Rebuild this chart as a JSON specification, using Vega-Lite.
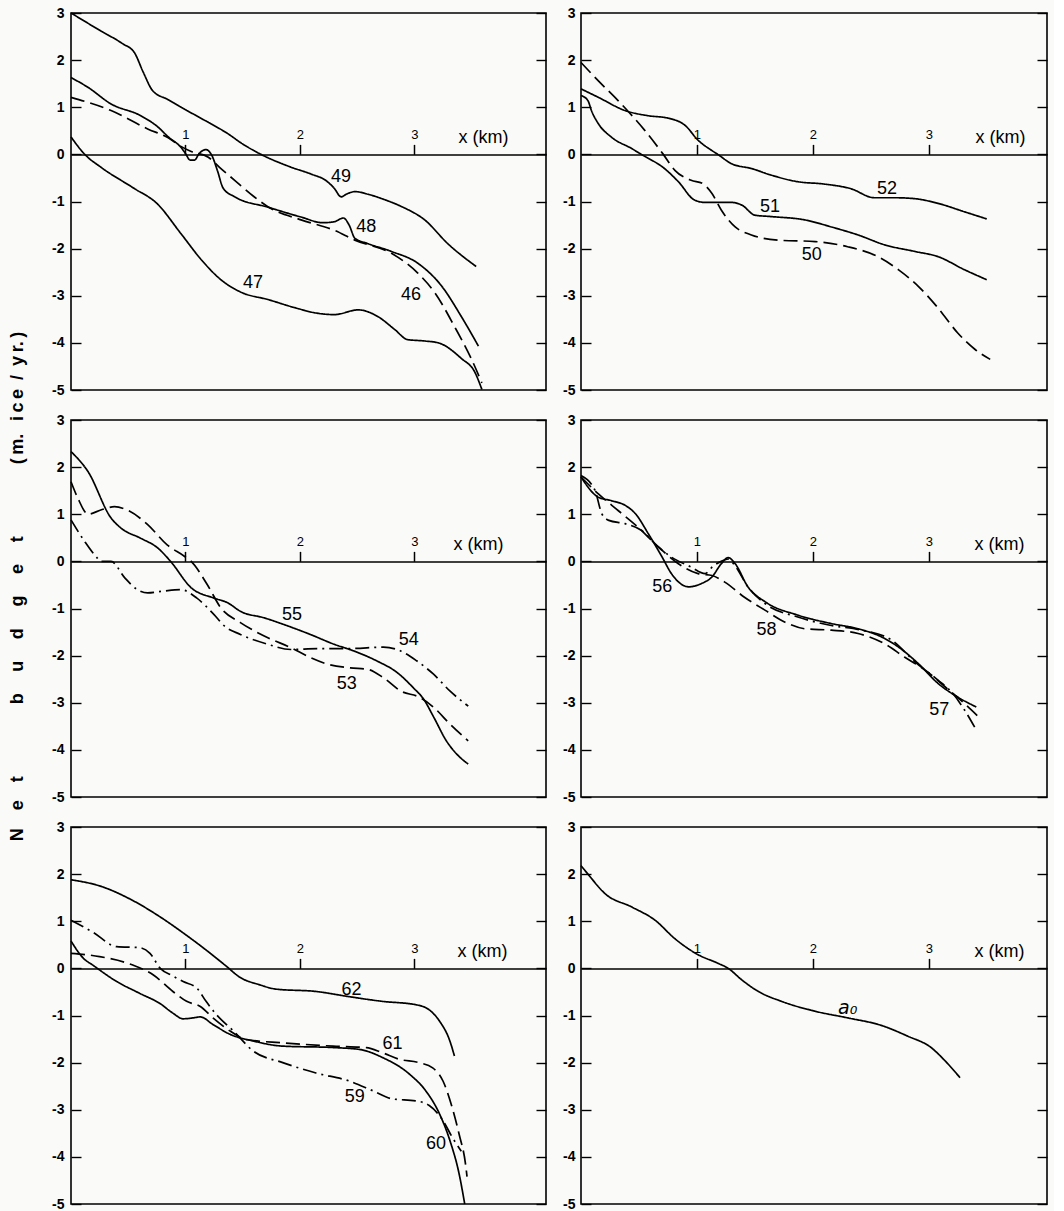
{
"$schema": "https://vega.github.io/schema/vega-lite/v6.json",
"background": "#fafbf8",
"padding": {"left": 8, "top": 5, "right": 5, "bottom": 0},
"config": {
  "view": {"stroke": "black", "strokeWidth": 1.6},
  "font": "Liberation Sans",
  "axis": {"domainColor": "black", "tickColor": "black", "labelColor": "black", "titleColor": "black", "grid": false, "labelFont": "Liberation Sans", "titleFont": "Liberation Sans"},
  "text": {"font": "Liberation Sans"}
},
"title": {"text": "N\u2003e\u2003t\u2003\u2003\u2003\u2003b\u2003\u2009u\u2003\u2009d\u2003\u2009g\u2003\u2009e\u2003\u2009t\u2003\u2003\u2003\u2003(\u2009m.\u2002\u2009i\u2009c\u2009e\u2002/\u2002y\u2009r.\u2009)", "orient": "left", "anchor": "middle", "font": "Liberation Sans", "fontSize": 18, "fontWeight": "bold", "color": "black", "offset": 24, "dx": 22},
"datasets": {
"curves": [
{"panel":1,"curve":"49","style":"solid","x":0,"y":3.0},{"panel":1,"curve":"49","style":"solid","x":0.26,"y":2.62},{"panel":1,"curve":"49","style":"solid","x":0.45,"y":2.35},{"panel":1,"curve":"49","style":"solid","x":0.554,"y":2.16},{"panel":1,"curve":"49","style":"solid","x":0.63,"y":1.75},{"panel":1,"curve":"49","style":"solid","x":0.714,"y":1.35},{"panel":1,"curve":"49","style":"solid","x":0.85,"y":1.16},{"panel":1,"curve":"49","style":"solid","x":0.962,"y":1.0},{"panel":1,"curve":"49","style":"solid","x":1.17,"y":0.72},{"panel":1,"curve":"49","style":"solid","x":1.37,"y":0.44},{"panel":1,"curve":"49","style":"solid","x":1.5,"y":0.22},{"panel":1,"curve":"49","style":"solid","x":1.66,"y":0.0},{"panel":1,"curve":"49","style":"solid","x":1.92,"y":-0.27},{"panel":1,"curve":"49","style":"solid","x":2.1,"y":-0.42},{"panel":1,"curve":"49","style":"solid","x":2.23,"y":-0.56},{"panel":1,"curve":"49","style":"solid","x":2.3,"y":-0.72},{"panel":1,"curve":"49","style":"solid","x":2.36,"y":-0.9},{"panel":1,"curve":"49","style":"solid","x":2.41,"y":-0.84},{"panel":1,"curve":"49","style":"solid","x":2.48,"y":-0.79},{"panel":1,"curve":"49","style":"solid","x":2.6,"y":-0.85},{"panel":1,"curve":"49","style":"solid","x":2.75,"y":-0.97},{"panel":1,"curve":"49","style":"solid","x":2.89,"y":-1.11},{"panel":1,"curve":"49","style":"solid","x":3.09,"y":-1.39},{"panel":1,"curve":"49","style":"solid","x":3.29,"y":-1.89},{"panel":1,"curve":"49","style":"solid","x":3.54,"y":-2.38},
{"panel":1,"curve":"48","style":"solid","x":0,"y":1.63},{"panel":1,"curve":"48","style":"solid","x":0.15,"y":1.42},{"panel":1,"curve":"48","style":"solid","x":0.35,"y":1.07},{"panel":1,"curve":"48","style":"solid","x":0.61,"y":0.82},{"panel":1,"curve":"48","style":"solid","x":0.76,"y":0.58},{"panel":1,"curve":"48","style":"solid","x":0.85,"y":0.37},{"panel":1,"curve":"48","style":"solid","x":0.96,"y":0.15},{"panel":1,"curve":"48","style":"solid","x":1.0,"y":0.02},{"panel":1,"curve":"48","style":"solid","x":1.04,"y":-0.12},{"panel":1,"curve":"48","style":"solid","x":1.08,"y":-0.12},{"panel":1,"curve":"48","style":"solid","x":1.12,"y":0.02},{"panel":1,"curve":"48","style":"solid","x":1.18,"y":0.1},{"panel":1,"curve":"48","style":"solid","x":1.23,"y":-0.02},{"panel":1,"curve":"48","style":"solid","x":1.28,"y":-0.35},{"panel":1,"curve":"48","style":"solid","x":1.33,"y":-0.72},{"panel":1,"curve":"48","style":"solid","x":1.43,"y":-0.9},{"panel":1,"curve":"48","style":"solid","x":1.72,"y":-1.12},{"panel":1,"curve":"48","style":"solid","x":2.01,"y":-1.33},{"panel":1,"curve":"48","style":"solid","x":2.2,"y":-1.45},{"panel":1,"curve":"48","style":"solid","x":2.3,"y":-1.43},{"panel":1,"curve":"48","style":"solid","x":2.38,"y":-1.35},{"panel":1,"curve":"48","style":"solid","x":2.43,"y":-1.5},{"panel":1,"curve":"48","style":"solid","x":2.48,"y":-1.78},{"panel":1,"curve":"48","style":"solid","x":2.59,"y":-1.89},{"panel":1,"curve":"48","style":"solid","x":2.8,"y":-2.06},{"panel":1,"curve":"48","style":"solid","x":3.03,"y":-2.31},{"panel":1,"curve":"48","style":"solid","x":3.24,"y":-2.8},{"panel":1,"curve":"48","style":"solid","x":3.41,"y":-3.44},{"panel":1,"curve":"48","style":"solid","x":3.56,"y":-4.07},
{"panel":1,"curve":"46","style":"dashed","x":0,"y":1.21},{"panel":1,"curve":"46","style":"dashed","x":0.35,"y":0.93},{"panel":1,"curve":"46","style":"dashed","x":0.67,"y":0.54},{"panel":1,"curve":"46","style":"dashed","x":0.85,"y":0.35},{"panel":1,"curve":"46","style":"dashed","x":0.96,"y":0.17},{"panel":1,"curve":"46","style":"dashed","x":1.05,"y":0.06},{"panel":1,"curve":"46","style":"dashed","x":1.2,"y":-0.06},{"panel":1,"curve":"46","style":"dashed","x":1.3,"y":-0.28},{"panel":1,"curve":"46","style":"dashed","x":1.43,"y":-0.55},{"panel":1,"curve":"46","style":"dashed","x":1.6,"y":-0.9},{"panel":1,"curve":"46","style":"dashed","x":1.72,"y":-1.11},{"panel":1,"curve":"46","style":"dashed","x":2.01,"y":-1.39},{"panel":1,"curve":"46","style":"dashed","x":2.3,"y":-1.61},{"panel":1,"curve":"46","style":"dashed","x":2.48,"y":-1.82},{"panel":1,"curve":"46","style":"dashed","x":2.8,"y":-2.1},{"panel":1,"curve":"46","style":"dashed","x":3.03,"y":-2.52},{"panel":1,"curve":"46","style":"dashed","x":3.18,"y":-2.94},{"panel":1,"curve":"46","style":"dashed","x":3.35,"y":-3.65},{"panel":1,"curve":"46","style":"dashed","x":3.5,"y":-4.35},{"panel":1,"curve":"46","style":"dashed","x":3.59,"y":-4.85},
{"panel":1,"curve":"47","style":"solid","x":0,"y":0.37},{"panel":1,"curve":"47","style":"solid","x":0.12,"y":0.0},{"panel":1,"curve":"47","style":"solid","x":0.26,"y":-0.27},{"panel":1,"curve":"47","style":"solid","x":0.55,"y":-0.72},{"panel":1,"curve":"47","style":"solid","x":0.75,"y":-1.04},{"panel":1,"curve":"47","style":"solid","x":0.96,"y":-1.68},{"panel":1,"curve":"47","style":"solid","x":1.14,"y":-2.24},{"panel":1,"curve":"47","style":"solid","x":1.31,"y":-2.66},{"panel":1,"curve":"47","style":"solid","x":1.49,"y":-2.93},{"panel":1,"curve":"47","style":"solid","x":1.72,"y":-3.08},{"panel":1,"curve":"47","style":"solid","x":1.95,"y":-3.25},{"panel":1,"curve":"47","style":"solid","x":2.15,"y":-3.37},{"panel":1,"curve":"47","style":"solid","x":2.3,"y":-3.4},{"panel":1,"curve":"47","style":"solid","x":2.51,"y":-3.3},{"panel":1,"curve":"47","style":"solid","x":2.68,"y":-3.44},{"panel":1,"curve":"47","style":"solid","x":2.83,"y":-3.72},{"panel":1,"curve":"47","style":"solid","x":2.94,"y":-3.93},{"panel":1,"curve":"47","style":"solid","x":3.09,"y":-3.96},{"panel":1,"curve":"47","style":"solid","x":3.21,"y":-4.0},{"panel":1,"curve":"47","style":"solid","x":3.41,"y":-4.33},{"panel":1,"curve":"47","style":"solid","x":3.53,"y":-4.63},{"panel":1,"curve":"47","style":"solid","x":3.59,"y":-4.99},
{"panel":2,"curve":"52","style":"solid","x":0,"y":1.39},{"panel":2,"curve":"52","style":"solid","x":0.15,"y":1.21},{"panel":2,"curve":"52","style":"solid","x":0.38,"y":0.93},{"panel":2,"curve":"52","style":"solid","x":0.58,"y":0.82},{"panel":2,"curve":"52","style":"solid","x":0.75,"y":0.77},{"panel":2,"curve":"52","style":"solid","x":0.9,"y":0.61},{"panel":2,"curve":"52","style":"solid","x":1.01,"y":0.3},{"panel":2,"curve":"52","style":"solid","x":1.13,"y":0.08},{"panel":2,"curve":"52","style":"solid","x":1.18,"y":0.0},{"panel":2,"curve":"52","style":"solid","x":1.3,"y":-0.2},{"panel":2,"curve":"52","style":"solid","x":1.47,"y":-0.3},{"panel":2,"curve":"52","style":"solid","x":1.64,"y":-0.44},{"panel":2,"curve":"52","style":"solid","x":1.87,"y":-0.58},{"panel":2,"curve":"52","style":"solid","x":2.1,"y":-0.63},{"panel":2,"curve":"52","style":"solid","x":2.33,"y":-0.73},{"panel":2,"curve":"52","style":"solid","x":2.53,"y":-0.92},{"panel":2,"curve":"52","style":"solid","x":2.71,"y":-0.92},{"panel":2,"curve":"52","style":"solid","x":2.88,"y":-0.94},{"panel":2,"curve":"52","style":"solid","x":3.08,"y":-1.04},{"panel":2,"curve":"52","style":"solid","x":3.31,"y":-1.22},{"panel":2,"curve":"52","style":"solid","x":3.5,"y":-1.37},
{"panel":2,"curve":"51","style":"solid","x":0,"y":1.25},{"panel":2,"curve":"51","style":"solid","x":0.06,"y":1.14},{"panel":2,"curve":"51","style":"solid","x":0.09,"y":0.93},{"panel":2,"curve":"51","style":"solid","x":0.15,"y":0.65},{"panel":2,"curve":"51","style":"solid","x":0.26,"y":0.37},{"panel":2,"curve":"51","style":"solid","x":0.44,"y":0.12},{"panel":2,"curve":"51","style":"solid","x":0.52,"y":0.0},{"panel":2,"curve":"51","style":"solid","x":0.72,"y":-0.3},{"panel":2,"curve":"51","style":"solid","x":0.84,"y":-0.58},{"panel":2,"curve":"51","style":"solid","x":0.98,"y":-0.97},{"panel":2,"curve":"51","style":"solid","x":1.07,"y":-1.02},{"panel":2,"curve":"51","style":"solid","x":1.3,"y":-1.02},{"panel":2,"curve":"51","style":"solid","x":1.39,"y":-1.08},{"panel":2,"curve":"51","style":"solid","x":1.5,"y":-1.29},{"panel":2,"curve":"51","style":"solid","x":1.64,"y":-1.32},{"panel":2,"curve":"51","style":"solid","x":1.93,"y":-1.39},{"panel":2,"curve":"51","style":"solid","x":2.16,"y":-1.54},{"panel":2,"curve":"51","style":"solid","x":2.39,"y":-1.71},{"panel":2,"curve":"51","style":"solid","x":2.62,"y":-1.92},{"panel":2,"curve":"51","style":"solid","x":2.88,"y":-2.06},{"panel":2,"curve":"51","style":"solid","x":3.08,"y":-2.17},{"panel":2,"curve":"51","style":"solid","x":3.31,"y":-2.45},{"panel":2,"curve":"51","style":"solid","x":3.5,"y":-2.66},
{"panel":2,"curve":"50","style":"dashed","x":0,"y":1.95},{"panel":2,"curve":"50","style":"dashed","x":0.15,"y":1.56},{"panel":2,"curve":"50","style":"dashed","x":0.32,"y":1.14},{"panel":2,"curve":"50","style":"dashed","x":0.55,"y":0.51},{"panel":2,"curve":"50","style":"dashed","x":0.71,"y":0.0},{"panel":2,"curve":"50","style":"dashed","x":0.81,"y":-0.34},{"panel":2,"curve":"50","style":"dashed","x":0.95,"y":-0.55},{"panel":2,"curve":"50","style":"dashed","x":1.05,"y":-0.62},{"panel":2,"curve":"50","style":"dashed","x":1.13,"y":-0.83},{"panel":2,"curve":"50","style":"dashed","x":1.21,"y":-1.18},{"panel":2,"curve":"50","style":"dashed","x":1.33,"y":-1.54},{"panel":2,"curve":"50","style":"dashed","x":1.47,"y":-1.71},{"panel":2,"curve":"50","style":"dashed","x":1.7,"y":-1.82},{"panel":2,"curve":"50","style":"dashed","x":2.02,"y":-1.85},{"panel":2,"curve":"50","style":"dashed","x":2.3,"y":-1.96},{"panel":2,"curve":"50","style":"dashed","x":2.56,"y":-2.17},{"panel":2,"curve":"50","style":"dashed","x":2.74,"y":-2.45},{"panel":2,"curve":"50","style":"dashed","x":2.91,"y":-2.8},{"panel":2,"curve":"50","style":"dashed","x":3.08,"y":-3.26},{"panel":2,"curve":"50","style":"dashed","x":3.25,"y":-3.79},{"panel":2,"curve":"50","style":"dashed","x":3.4,"y":-4.14},{"panel":2,"curve":"50","style":"dashed","x":3.53,"y":-4.35},
{"panel":3,"curve":"55","style":"solid","x":0,"y":2.33},{"panel":3,"curve":"55","style":"solid","x":0.15,"y":1.9},{"panel":3,"curve":"55","style":"solid","x":0.35,"y":0.92},{"panel":3,"curve":"55","style":"solid","x":0.44,"y":0.7},{"panel":3,"curve":"55","style":"solid","x":0.61,"y":0.49},{"panel":3,"curve":"55","style":"solid","x":0.76,"y":0.28},{"panel":3,"curve":"55","style":"solid","x":0.87,"y":0.0},{"panel":3,"curve":"55","style":"solid","x":1.05,"y":-0.56},{"panel":3,"curve":"55","style":"solid","x":1.25,"y":-0.78},{"panel":3,"curve":"55","style":"solid","x":1.37,"y":-0.88},{"panel":3,"curve":"55","style":"solid","x":1.48,"y":-1.06},{"panel":3,"curve":"55","style":"solid","x":1.69,"y":-1.2},{"panel":3,"curve":"55","style":"solid","x":1.86,"y":-1.34},{"panel":3,"curve":"55","style":"solid","x":2.09,"y":-1.55},{"panel":3,"curve":"55","style":"solid","x":2.3,"y":-1.76},{"panel":3,"curve":"55","style":"solid","x":2.47,"y":-1.9},{"panel":3,"curve":"55","style":"solid","x":2.67,"y":-2.11},{"panel":3,"curve":"55","style":"solid","x":2.85,"y":-2.36},{"panel":3,"curve":"55","style":"solid","x":2.99,"y":-2.68},{"panel":3,"curve":"55","style":"solid","x":3.08,"y":-2.92},{"panel":3,"curve":"55","style":"solid","x":3.17,"y":-3.31},{"panel":3,"curve":"55","style":"solid","x":3.28,"y":-3.81},{"panel":3,"curve":"55","style":"solid","x":3.37,"y":-4.09},{"panel":3,"curve":"55","style":"solid","x":3.47,"y":-4.3},
{"panel":3,"curve":"53","style":"dashed","x":0,"y":1.69},{"panel":3,"curve":"53","style":"dashed","x":0.06,"y":1.34},{"panel":3,"curve":"53","style":"dashed","x":0.15,"y":1.0},{"panel":3,"curve":"53","style":"dashed","x":0.26,"y":1.09},{"panel":3,"curve":"53","style":"dashed","x":0.38,"y":1.16},{"panel":3,"curve":"53","style":"dashed","x":0.49,"y":1.09},{"panel":3,"curve":"53","style":"dashed","x":0.67,"y":0.78},{"panel":3,"curve":"53","style":"dashed","x":0.84,"y":0.35},{"panel":3,"curve":"53","style":"dashed","x":0.99,"y":0.11},{"panel":3,"curve":"53","style":"dashed","x":1.05,"y":0.0},{"panel":3,"curve":"53","style":"dashed","x":1.19,"y":-0.49},{"panel":3,"curve":"53","style":"dashed","x":1.31,"y":-0.99},{"panel":3,"curve":"53","style":"dashed","x":1.48,"y":-1.3},{"panel":3,"curve":"53","style":"dashed","x":1.72,"y":-1.62},{"panel":3,"curve":"53","style":"dashed","x":1.92,"y":-1.83},{"panel":3,"curve":"53","style":"dashed","x":2.09,"y":-2.04},{"panel":3,"curve":"53","style":"dashed","x":2.24,"y":-2.18},{"panel":3,"curve":"53","style":"dashed","x":2.44,"y":-2.26},{"panel":3,"curve":"53","style":"dashed","x":2.59,"y":-2.29},{"panel":3,"curve":"53","style":"dashed","x":2.73,"y":-2.47},{"panel":3,"curve":"53","style":"dashed","x":2.88,"y":-2.75},{"panel":3,"curve":"53","style":"dashed","x":3.05,"y":-2.89},{"panel":3,"curve":"53","style":"dashed","x":3.17,"y":-3.1},{"panel":3,"curve":"53","style":"dashed","x":3.31,"y":-3.45},{"panel":3,"curve":"53","style":"dashed","x":3.47,"y":-3.81},
{"panel":3,"curve":"54","style":"dashdot","x":0,"y":0.88},{"panel":3,"curve":"54","style":"dashdot","x":0.12,"y":0.42},{"panel":3,"curve":"54","style":"dashdot","x":0.23,"y":0.07},{"panel":3,"curve":"54","style":"dashdot","x":0.26,"y":0.0},{"panel":3,"curve":"54","style":"dashdot","x":0.35,"y":0.0},{"panel":3,"curve":"54","style":"dashdot","x":0.47,"y":-0.35},{"panel":3,"curve":"54","style":"dashdot","x":0.58,"y":-0.6},{"panel":3,"curve":"54","style":"dashdot","x":0.67,"y":-0.67},{"panel":3,"curve":"54","style":"dashdot","x":0.81,"y":-0.63},{"panel":3,"curve":"54","style":"dashdot","x":0.96,"y":-0.6},{"panel":3,"curve":"54","style":"dashdot","x":1.1,"y":-0.78},{"panel":3,"curve":"54","style":"dashdot","x":1.25,"y":-1.13},{"panel":3,"curve":"54","style":"dashdot","x":1.34,"y":-1.37},{"panel":3,"curve":"54","style":"dashdot","x":1.48,"y":-1.55},{"panel":3,"curve":"54","style":"dashdot","x":1.72,"y":-1.76},{"panel":3,"curve":"54","style":"dashdot","x":1.92,"y":-1.87},{"panel":3,"curve":"54","style":"dashdot","x":2.15,"y":-1.85},{"panel":3,"curve":"54","style":"dashdot","x":2.44,"y":-1.85},{"panel":3,"curve":"54","style":"dashdot","x":2.73,"y":-1.82},{"panel":3,"curve":"54","style":"dashdot","x":2.88,"y":-1.9},{"panel":3,"curve":"54","style":"dashdot","x":3.02,"y":-2.11},{"panel":3,"curve":"54","style":"dashdot","x":3.17,"y":-2.4},{"panel":3,"curve":"54","style":"dashdot","x":3.31,"y":-2.75},{"panel":3,"curve":"54","style":"dashdot","x":3.47,"y":-3.07},
{"panel":4,"curve":"56","style":"solid","x":0,"y":1.79},{"panel":4,"curve":"56","style":"solid","x":0.15,"y":1.36},{"panel":4,"curve":"56","style":"solid","x":0.26,"y":1.29},{"panel":4,"curve":"56","style":"solid","x":0.38,"y":1.19},{"panel":4,"curve":"56","style":"solid","x":0.47,"y":1.01},{"panel":4,"curve":"56","style":"solid","x":0.58,"y":0.59},{"panel":4,"curve":"56","style":"solid","x":0.7,"y":0.09},{"panel":4,"curve":"56","style":"solid","x":0.78,"y":-0.26},{"panel":4,"curve":"56","style":"solid","x":0.93,"y":-0.54},{"panel":4,"curve":"56","style":"solid","x":1.04,"y":-0.47},{"panel":4,"curve":"56","style":"solid","x":1.13,"y":-0.33},{"panel":4,"curve":"56","style":"solid","x":1.21,"y":-0.05},{"panel":4,"curve":"56","style":"solid","x":1.27,"y":0.08},{"panel":4,"curve":"56","style":"solid","x":1.33,"y":-0.05},{"panel":4,"curve":"56","style":"solid","x":1.44,"y":-0.54},{"panel":4,"curve":"56","style":"solid","x":1.59,"y":-0.86},{"panel":4,"curve":"56","style":"solid","x":1.87,"y":-1.14},{"panel":4,"curve":"56","style":"solid","x":2.16,"y":-1.32},{"panel":4,"curve":"56","style":"solid","x":2.39,"y":-1.43},{"panel":4,"curve":"56","style":"solid","x":2.59,"y":-1.6},{"panel":4,"curve":"56","style":"solid","x":2.74,"y":-1.82},{"panel":4,"curve":"56","style":"solid","x":2.91,"y":-2.17},{"panel":4,"curve":"56","style":"solid","x":3.08,"y":-2.59},{"panel":4,"curve":"56","style":"solid","x":3.25,"y":-2.88},{"panel":4,"curve":"56","style":"solid","x":3.41,"y":-3.09},
{"panel":4,"curve":"57","style":"dashdot","x":0,"y":1.82},{"panel":4,"curve":"57","style":"dashdot","x":0.12,"y":1.51},{"panel":4,"curve":"57","style":"dashdot","x":0.18,"y":1.01},{"panel":4,"curve":"57","style":"dashdot","x":0.24,"y":0.87},{"panel":4,"curve":"57","style":"dashdot","x":0.38,"y":0.8},{"panel":4,"curve":"57","style":"dashdot","x":0.52,"y":0.66},{"panel":4,"curve":"57","style":"dashdot","x":0.67,"y":0.3},{"panel":4,"curve":"57","style":"dashdot","x":0.78,"y":0.09},{"panel":4,"curve":"57","style":"dashdot","x":0.95,"y":-0.12},{"panel":4,"curve":"57","style":"dashdot","x":1.07,"y":-0.26},{"panel":4,"curve":"57","style":"dashdot","x":1.14,"y":-0.1},{"panel":4,"curve":"57","style":"dashdot","x":1.21,"y":0.0},{"panel":4,"curve":"57","style":"dashdot","x":1.27,"y":0.05},{"panel":4,"curve":"57","style":"dashdot","x":1.33,"y":-0.1},{"panel":4,"curve":"57","style":"dashdot","x":1.44,"y":-0.54},{"panel":4,"curve":"57","style":"dashdot","x":1.59,"y":-0.9},{"panel":4,"curve":"57","style":"dashdot","x":1.87,"y":-1.18},{"panel":4,"curve":"57","style":"dashdot","x":2.16,"y":-1.36},{"panel":4,"curve":"57","style":"dashdot","x":2.4,"y":-1.45},{"panel":4,"curve":"57","style":"dashdot","x":2.68,"y":-1.67},{"panel":4,"curve":"57","style":"dashdot","x":2.88,"y":-2.13},{"panel":4,"curve":"57","style":"dashdot","x":3.08,"y":-2.52},{"panel":4,"curve":"57","style":"dashdot","x":3.21,"y":-2.81},{"panel":4,"curve":"57","style":"dashdot","x":3.31,"y":-3.16},{"panel":4,"curve":"57","style":"dashdot","x":3.41,"y":-3.58},
{"panel":4,"curve":"58","style":"dashed","x":0,"y":1.79},{"panel":4,"curve":"58","style":"dashed","x":0.15,"y":1.43},{"panel":4,"curve":"58","style":"dashed","x":0.32,"y":1.08},{"panel":4,"curve":"58","style":"dashed","x":0.49,"y":0.73},{"panel":4,"curve":"58","style":"dashed","x":0.67,"y":0.3},{"panel":4,"curve":"58","style":"dashed","x":0.84,"y":-0.05},{"panel":4,"curve":"58","style":"dashed","x":1.01,"y":-0.26},{"panel":4,"curve":"58","style":"dashed","x":1.13,"y":-0.3},{"panel":4,"curve":"58","style":"dashed","x":1.24,"y":-0.44},{"panel":4,"curve":"58","style":"dashed","x":1.41,"y":-0.76},{"panel":4,"curve":"58","style":"dashed","x":1.59,"y":-1.04},{"panel":4,"curve":"58","style":"dashed","x":1.76,"y":-1.29},{"panel":4,"curve":"58","style":"dashed","x":1.93,"y":-1.43},{"panel":4,"curve":"58","style":"dashed","x":2.16,"y":-1.46},{"panel":4,"curve":"58","style":"dashed","x":2.39,"y":-1.53},{"panel":4,"curve":"58","style":"dashed","x":2.62,"y":-1.75},{"panel":4,"curve":"58","style":"dashed","x":2.79,"y":-2.03},{"panel":4,"curve":"58","style":"dashed","x":2.97,"y":-2.31},{"panel":4,"curve":"58","style":"dashed","x":3.14,"y":-2.66},{"panel":4,"curve":"58","style":"dashed","x":3.31,"y":-3.02},{"panel":4,"curve":"58","style":"dashed","x":3.43,"y":-3.3},
{"panel":5,"curve":"62","style":"solid","x":0,"y":1.88},{"panel":5,"curve":"62","style":"solid","x":0.25,"y":1.75},{"panel":5,"curve":"62","style":"solid","x":0.54,"y":1.44},{"panel":5,"curve":"62","style":"solid","x":0.78,"y":1.09},{"panel":5,"curve":"62","style":"solid","x":1.01,"y":0.7},{"panel":5,"curve":"62","style":"solid","x":1.18,"y":0.39},{"panel":5,"curve":"62","style":"solid","x":1.36,"y":0.04},{"panel":5,"curve":"62","style":"solid","x":1.47,"y":-0.18},{"panel":5,"curve":"62","style":"solid","x":1.65,"y":-0.35},{"panel":5,"curve":"62","style":"solid","x":1.79,"y":-0.44},{"panel":5,"curve":"62","style":"solid","x":2.14,"y":-0.49},{"panel":5,"curve":"62","style":"solid","x":2.43,"y":-0.6},{"panel":5,"curve":"62","style":"solid","x":2.72,"y":-0.7},{"panel":5,"curve":"62","style":"solid","x":3.01,"y":-0.77},{"panel":5,"curve":"62","style":"solid","x":3.13,"y":-0.88},{"panel":5,"curve":"62","style":"solid","x":3.22,"y":-1.12},{"panel":5,"curve":"62","style":"solid","x":3.31,"y":-1.54},{"panel":5,"curve":"62","style":"solid","x":3.35,"y":-1.86},
{"panel":5,"curve":"59","style":"dashdot","x":0,"y":1.02},{"panel":5,"curve":"59","style":"dashdot","x":0.19,"y":0.77},{"panel":5,"curve":"59","style":"dashdot","x":0.4,"y":0.46},{"panel":5,"curve":"59","style":"dashdot","x":0.6,"y":0.44},{"panel":5,"curve":"59","style":"dashdot","x":0.69,"y":0.32},{"panel":5,"curve":"59","style":"dashdot","x":0.78,"y":0.0},{"panel":5,"curve":"59","style":"dashdot","x":0.89,"y":-0.16},{"panel":5,"curve":"59","style":"dashdot","x":0.98,"y":-0.28},{"panel":5,"curve":"59","style":"dashdot","x":1.1,"y":-0.42},{"panel":5,"curve":"59","style":"dashdot","x":1.18,"y":-0.7},{"panel":5,"curve":"59","style":"dashdot","x":1.27,"y":-0.98},{"panel":5,"curve":"59","style":"dashdot","x":1.42,"y":-1.33},{"panel":5,"curve":"59","style":"dashdot","x":1.59,"y":-1.75},{"panel":5,"curve":"59","style":"dashdot","x":1.85,"y":-2.0},{"panel":5,"curve":"59","style":"dashdot","x":2.14,"y":-2.22},{"panel":5,"curve":"59","style":"dashdot","x":2.43,"y":-2.39},{"panel":5,"curve":"59","style":"dashdot","x":2.64,"y":-2.6},{"panel":5,"curve":"59","style":"dashdot","x":2.81,"y":-2.77},{"panel":5,"curve":"59","style":"dashdot","x":3.01,"y":-2.81},{"panel":5,"curve":"59","style":"dashdot","x":3.13,"y":-2.91},{"panel":5,"curve":"59","style":"dashdot","x":3.25,"y":-3.23},{"panel":5,"curve":"59","style":"dashdot","x":3.33,"y":-3.58},{"panel":5,"curve":"59","style":"dashdot","x":3.41,"y":-3.88},
{"panel":5,"curve":"60","style":"solid","x":0,"y":0.58},{"panel":5,"curve":"60","style":"solid","x":0.11,"y":0.21},{"panel":5,"curve":"60","style":"solid","x":0.19,"y":0.07},{"panel":5,"curve":"60","style":"solid","x":0.4,"y":-0.28},{"panel":5,"curve":"60","style":"solid","x":0.6,"y":-0.53},{"panel":5,"curve":"60","style":"solid","x":0.78,"y":-0.75},{"panel":5,"curve":"60","style":"solid","x":0.89,"y":-0.95},{"panel":5,"curve":"60","style":"solid","x":0.98,"y":-1.07},{"panel":5,"curve":"60","style":"solid","x":1.07,"y":-1.05},{"panel":5,"curve":"60","style":"solid","x":1.13,"y":-1.03},{"panel":5,"curve":"60","style":"solid","x":1.24,"y":-1.19},{"panel":5,"curve":"60","style":"solid","x":1.39,"y":-1.4},{"panel":5,"curve":"60","style":"solid","x":1.59,"y":-1.54},{"panel":5,"curve":"60","style":"solid","x":1.85,"y":-1.65},{"panel":5,"curve":"60","style":"solid","x":2.29,"y":-1.68},{"panel":5,"curve":"60","style":"solid","x":2.52,"y":-1.72},{"panel":5,"curve":"60","style":"solid","x":2.72,"y":-1.89},{"panel":5,"curve":"60","style":"solid","x":2.96,"y":-2.25},{"panel":5,"curve":"60","style":"solid","x":3.1,"y":-2.6},{"panel":5,"curve":"60","style":"solid","x":3.22,"y":-3.09},{"panel":5,"curve":"60","style":"solid","x":3.31,"y":-3.65},{"panel":5,"curve":"60","style":"solid","x":3.39,"y":-4.35},{"panel":5,"curve":"60","style":"solid","x":3.44,"y":-5.0},
{"panel":5,"curve":"61","style":"dashed","x":0,"y":0.32},{"panel":5,"curve":"61","style":"dashed","x":0.25,"y":0.25},{"panel":5,"curve":"61","style":"dashed","x":0.54,"y":0.07},{"panel":5,"curve":"61","style":"dashed","x":0.72,"y":-0.14},{"panel":5,"curve":"61","style":"dashed","x":0.89,"y":-0.49},{"panel":5,"curve":"61","style":"dashed","x":1.01,"y":-0.7},{"panel":5,"curve":"61","style":"dashed","x":1.13,"y":-0.81},{"panel":5,"curve":"61","style":"dashed","x":1.24,"y":-1.05},{"panel":5,"curve":"61","style":"dashed","x":1.39,"y":-1.33},{"panel":5,"curve":"61","style":"dashed","x":1.53,"y":-1.51},{"panel":5,"curve":"61","style":"dashed","x":1.85,"y":-1.58},{"panel":5,"curve":"61","style":"dashed","x":2.29,"y":-1.65},{"panel":5,"curve":"61","style":"dashed","x":2.58,"y":-1.68},{"panel":5,"curve":"61","style":"dashed","x":2.72,"y":-1.79},{"panel":5,"curve":"61","style":"dashed","x":2.87,"y":-1.93},{"panel":5,"curve":"61","style":"dashed","x":3.04,"y":-2.0},{"panel":5,"curve":"61","style":"dashed","x":3.16,"y":-2.11},{"panel":5,"curve":"61","style":"dashed","x":3.25,"y":-2.39},{"panel":5,"curve":"61","style":"dashed","x":3.33,"y":-2.95},{"panel":5,"curve":"61","style":"dashed","x":3.39,"y":-3.51},{"panel":5,"curve":"61","style":"dashed","x":3.45,"y":-4.21},{"panel":5,"curve":"61","style":"dashed","x":3.46,"y":-4.42},
{"panel":6,"curve":"a0","style":"solid","x":0,"y":2.18},{"panel":6,"curve":"a0","style":"solid","x":0.06,"y":2.0},{"panel":6,"curve":"a0","style":"solid","x":0.21,"y":1.58},{"panel":6,"curve":"a0","style":"solid","x":0.44,"y":1.3},{"panel":6,"curve":"a0","style":"solid","x":0.64,"y":1.02},{"panel":6,"curve":"a0","style":"solid","x":0.81,"y":0.63},{"panel":6,"curve":"a0","style":"solid","x":1.01,"y":0.29},{"panel":6,"curve":"a0","style":"solid","x":1.18,"y":0.11},{"panel":6,"curve":"a0","style":"solid","x":1.27,"y":0.0},{"panel":6,"curve":"a0","style":"solid","x":1.39,"y":-0.25},{"panel":6,"curve":"a0","style":"solid","x":1.53,"y":-0.49},{"panel":6,"curve":"a0","style":"solid","x":1.73,"y":-0.7},{"panel":6,"curve":"a0","style":"solid","x":2.02,"y":-0.91},{"panel":6,"curve":"a0","style":"solid","x":2.3,"y":-1.05},{"panel":6,"curve":"a0","style":"solid","x":2.59,"y":-1.21},{"panel":6,"curve":"a0","style":"solid","x":2.82,"y":-1.44},{"panel":6,"curve":"a0","style":"solid","x":3.02,"y":-1.68},{"panel":6,"curve":"a0","style":"solid","x":3.14,"y":-1.96},{"panel":6,"curve":"a0","style":"solid","x":3.27,"y":-2.32}
],
"labels": [
{"panel":1,"label":"49","x":2.36,"y":-0.48},{"panel":1,"label":"48","x":2.58,"y":-1.54},{"panel":1,"label":"47","x":1.59,"y":-2.73},{"panel":1,"label":"46","x":2.97,"y":-2.98},
{"panel":2,"label":"52","x":2.64,"y":-0.73},{"panel":2,"label":"51","x":1.63,"y":-1.11},{"panel":2,"label":"50","x":1.99,"y":-2.13},
{"panel":3,"label":"55","x":1.93,"y":-1.13},{"panel":3,"label":"54","x":2.95,"y":-1.66},{"panel":3,"label":"53","x":2.41,"y":-2.61},
{"panel":4,"label":"56","x":0.7,"y":-0.54},{"panel":4,"label":"58","x":1.6,"y":-1.46},{"panel":4,"label":"57","x":3.09,"y":-3.16},
{"panel":5,"label":"62","x":2.45,"y":-0.46},{"panel":5,"label":"61","x":2.81,"y":-1.61},{"panel":5,"label":"59","x":2.48,"y":-2.74},{"panel":5,"label":"60","x":3.19,"y":-3.72},
{"panel":6,"label":"a\u2080","x":2.3,"y":-0.84}
]
},
"columns": 2,
"spacing": {"row": 14, "column": 13},
"concat": [
{"width": 475, "height": 377, "resolve": {"axis": {"y": "independent"}}, "layer": [
 {"data": {"name": "curves"}, "transform": [{"filter": "datum.panel === 1"}], "mark": {"type": "line", "interpolate": "monotone", "color": "black", "strokeWidth": 1.7},
  "encoding": {
   "x": {"field": "x", "type": "quantitative", "scale": {"domain": [0, 4.15], "nice": false, "zero": false}, "axis": {"orient": "top", "offset": -141.375, "values": [1, 2, 3], "format": "d", "ticks": true, "tickSize": 10, "tickWidth": 1.5, "domainWidth": 1.5, "labelFontSize": 13, "labelPadding": 3, "labelFlush": false, "title": "x (km)", "titleX": 412, "titleY": -12, "titleBaseline": "alphabetic", "titleAlign": "center", "titleFontSize": 18, "titleFontWeight": "normal"}},
   "y": {"field": "y", "type": "quantitative", "scale": {"domain": [-5, 3], "nice": false}, "axis": {"orient": "left", "values": [-5, -4, -3, -2, -1, 0, 1, 2, 3], "domain": false, "tickSize": -10, "tickWidth": 1.4, "labelPadding": 17, "labelFontSize": 14, "labelFontWeight": "bold", "labelExpr": "datum.value < 0 ? '-' + abs(datum.value) : '' + datum.value", "title": null}},
   "detail": {"field": "curve", "type": "nominal"},
   "strokeDash": {"field": "style", "type": "nominal", "scale": {"domain": ["solid", "dashed", "dashdot"], "range": [[1, 0], [14, 6], [14, 5, 2, 5]]}, "legend": null}
  }},
 {"data": {"name": "labels"}, "transform": [{"filter": "datum.panel === 1"}], "mark": {"type": "text", "fontSize": 18, "color": "black"},
  "encoding": {
   "x": {"field": "x", "type": "quantitative"},
   "y": {"field": "y", "type": "quantitative", "axis": {"orient": "right", "values": [-5, -4, -3, -2, -1, 0, 1, 2, 3], "labels": false, "domain": false, "tickSize": -10, "tickWidth": 1.4, "title": null}},
   "text": {"field": "label"}
  }}
]},
{"width": 466, "height": 377, "resolve": {"axis": {"y": "independent"}}, "layer": [
 {"data": {"name": "curves"}, "transform": [{"filter": "datum.panel === 2"}], "mark": {"type": "line", "interpolate": "monotone", "color": "black", "strokeWidth": 1.7},
  "encoding": {
   "x": {"field": "x", "type": "quantitative", "scale": {"domain": [0, 4.02], "nice": false, "zero": false}, "axis": {"orient": "top", "offset": -141.375, "values": [1, 2, 3], "format": "d", "ticks": true, "tickSize": 10, "tickWidth": 1.5, "domainWidth": 1.5, "labelFontSize": 13, "labelPadding": 3, "labelFlush": false, "title": "x (km)", "titleX": 419, "titleY": -12, "titleBaseline": "alphabetic", "titleAlign": "center", "titleFontSize": 18, "titleFontWeight": "normal"}},
   "y": {"field": "y", "type": "quantitative", "scale": {"domain": [-5, 3], "nice": false}, "axis": {"orient": "left", "values": [-5, -4, -3, -2, -1, 0, 1, 2, 3], "domain": false, "tickSize": -10, "tickWidth": 1.4, "labelPadding": 16, "labelFontSize": 14, "labelFontWeight": "bold", "labelExpr": "datum.value < 0 ? '-' + abs(datum.value) : '' + datum.value", "title": null}},
   "detail": {"field": "curve", "type": "nominal"},
   "strokeDash": {"field": "style", "type": "nominal", "scale": {"domain": ["solid", "dashed", "dashdot"], "range": [[1, 0], [14, 6], [14, 5, 2, 5]]}, "legend": null}
  }},
 {"data": {"name": "labels"}, "transform": [{"filter": "datum.panel === 2"}], "mark": {"type": "text", "fontSize": 18, "color": "black"},
  "encoding": {
   "x": {"field": "x", "type": "quantitative"},
   "y": {"field": "y", "type": "quantitative", "axis": {"orient": "right", "values": [-5, -4, -3, -2, -1, 0, 1, 2, 3], "labels": false, "domain": false, "tickSize": -10, "tickWidth": 1.4, "title": null}},
   "text": {"field": "label"}
  }}
]},
{"width": 475, "height": 377, "resolve": {"axis": {"y": "independent"}}, "layer": [
 {"data": {"name": "curves"}, "transform": [{"filter": "datum.panel === 3"}], "mark": {"type": "line", "interpolate": "monotone", "color": "black", "strokeWidth": 1.7},
  "encoding": {
   "x": {"field": "x", "type": "quantitative", "scale": {"domain": [0, 4.15], "nice": false, "zero": false}, "axis": {"orient": "top", "offset": -141.375, "values": [1, 2, 3], "format": "d", "ticks": true, "tickSize": 10, "tickWidth": 1.5, "domainWidth": 1.5, "labelFontSize": 13, "labelPadding": 3, "labelFlush": false, "title": "x (km)", "titleX": 407, "titleY": -12, "titleBaseline": "alphabetic", "titleAlign": "center", "titleFontSize": 18, "titleFontWeight": "normal"}},
   "y": {"field": "y", "type": "quantitative", "scale": {"domain": [-5, 3], "nice": false}, "axis": {"orient": "left", "values": [-5, -4, -3, -2, -1, 0, 1, 2, 3], "domain": false, "tickSize": -10, "tickWidth": 1.4, "labelPadding": 17, "labelFontSize": 14, "labelFontWeight": "bold", "labelExpr": "datum.value < 0 ? '-' + abs(datum.value) : '' + datum.value", "title": null}},
   "detail": {"field": "curve", "type": "nominal"},
   "strokeDash": {"field": "style", "type": "nominal", "scale": {"domain": ["solid", "dashed", "dashdot"], "range": [[1, 0], [14, 6], [14, 5, 2, 5]]}, "legend": null}
  }},
 {"data": {"name": "labels"}, "transform": [{"filter": "datum.panel === 3"}], "mark": {"type": "text", "fontSize": 18, "color": "black"},
  "encoding": {
   "x": {"field": "x", "type": "quantitative"},
   "y": {"field": "y", "type": "quantitative", "axis": {"orient": "right", "values": [-5, -4, -3, -2, -1, 0, 1, 2, 3], "labels": false, "domain": false, "tickSize": -10, "tickWidth": 1.4, "title": null}},
   "text": {"field": "label"}
  }}
]},
{"width": 466, "height": 377, "resolve": {"axis": {"y": "independent"}}, "layer": [
 {"data": {"name": "curves"}, "transform": [{"filter": "datum.panel === 4"}], "mark": {"type": "line", "interpolate": "monotone", "color": "black", "strokeWidth": 1.7},
  "encoding": {
   "x": {"field": "x", "type": "quantitative", "scale": {"domain": [0, 4.02], "nice": false, "zero": false}, "axis": {"orient": "top", "offset": -141.375, "values": [1, 2, 3], "format": "d", "ticks": true, "tickSize": 10, "tickWidth": 1.5, "domainWidth": 1.5, "labelFontSize": 13, "labelPadding": 3, "labelFlush": false, "title": "x (km)", "titleX": 418, "titleY": -12, "titleBaseline": "alphabetic", "titleAlign": "center", "titleFontSize": 18, "titleFontWeight": "normal"}},
   "y": {"field": "y", "type": "quantitative", "scale": {"domain": [-5, 3], "nice": false}, "axis": {"orient": "left", "values": [-5, -4, -3, -2, -1, 0, 1, 2, 3], "domain": false, "tickSize": -10, "tickWidth": 1.4, "labelPadding": 16, "labelFontSize": 14, "labelFontWeight": "bold", "labelExpr": "datum.value < 0 ? '-' + abs(datum.value) : '' + datum.value", "title": null}},
   "detail": {"field": "curve", "type": "nominal"},
   "strokeDash": {"field": "style", "type": "nominal", "scale": {"domain": ["solid", "dashed", "dashdot"], "range": [[1, 0], [14, 6], [14, 5, 2, 5]]}, "legend": null}
  }},
 {"data": {"name": "labels"}, "transform": [{"filter": "datum.panel === 4"}], "mark": {"type": "text", "fontSize": 18, "color": "black"},
  "encoding": {
   "x": {"field": "x", "type": "quantitative"},
   "y": {"field": "y", "type": "quantitative", "axis": {"orient": "right", "values": [-5, -4, -3, -2, -1, 0, 1, 2, 3], "labels": false, "domain": false, "tickSize": -10, "tickWidth": 1.4, "title": null}},
   "text": {"field": "label"}
  }}
]},
{"width": 475, "height": 377, "resolve": {"axis": {"y": "independent"}}, "layer": [
 {"data": {"name": "curves"}, "transform": [{"filter": "datum.panel === 5"}], "mark": {"type": "line", "interpolate": "monotone", "color": "black", "strokeWidth": 1.7},
  "encoding": {
   "x": {"field": "x", "type": "quantitative", "scale": {"domain": [0, 4.15], "nice": false, "zero": false}, "axis": {"orient": "top", "offset": -141.375, "values": [1, 2, 3], "format": "d", "ticks": true, "tickSize": 10, "tickWidth": 1.5, "domainWidth": 1.5, "labelFontSize": 13, "labelPadding": 3, "labelFlush": false, "title": "x (km)", "titleX": 411, "titleY": -12, "titleBaseline": "alphabetic", "titleAlign": "center", "titleFontSize": 18, "titleFontWeight": "normal"}},
   "y": {"field": "y", "type": "quantitative", "scale": {"domain": [-5, 3], "nice": false}, "axis": {"orient": "left", "values": [-5, -4, -3, -2, -1, 0, 1, 2, 3], "domain": false, "tickSize": -10, "tickWidth": 1.4, "labelPadding": 17, "labelFontSize": 14, "labelFontWeight": "bold", "labelExpr": "datum.value < 0 ? '-' + abs(datum.value) : '' + datum.value", "title": null}},
   "detail": {"field": "curve", "type": "nominal"},
   "strokeDash": {"field": "style", "type": "nominal", "scale": {"domain": ["solid", "dashed", "dashdot"], "range": [[1, 0], [14, 6], [14, 5, 2, 5]]}, "legend": null}
  }},
 {"data": {"name": "labels"}, "transform": [{"filter": "datum.panel === 5"}], "mark": {"type": "text", "fontSize": 18, "color": "black"},
  "encoding": {
   "x": {"field": "x", "type": "quantitative"},
   "y": {"field": "y", "type": "quantitative", "axis": {"orient": "right", "values": [-5, -4, -3, -2, -1, 0, 1, 2, 3], "labels": false, "domain": false, "tickSize": -10, "tickWidth": 1.4, "title": null}},
   "text": {"field": "label"}
  }}
]},
{"width": 466, "height": 377, "resolve": {"axis": {"y": "independent"}}, "layer": [
 {"data": {"name": "curves"}, "transform": [{"filter": "datum.panel === 6"}], "mark": {"type": "line", "interpolate": "monotone", "color": "black", "strokeWidth": 1.7},
  "encoding": {
   "x": {"field": "x", "type": "quantitative", "scale": {"domain": [0, 4.02], "nice": false, "zero": false}, "axis": {"orient": "top", "offset": -141.375, "values": [1, 2, 3], "format": "d", "ticks": true, "tickSize": 10, "tickWidth": 1.5, "domainWidth": 1.5, "labelFontSize": 13, "labelPadding": 3, "labelFlush": false, "title": "x (km)", "titleX": 418, "titleY": -12, "titleBaseline": "alphabetic", "titleAlign": "center", "titleFontSize": 18, "titleFontWeight": "normal"}},
   "y": {"field": "y", "type": "quantitative", "scale": {"domain": [-5, 3], "nice": false}, "axis": {"orient": "left", "values": [-5, -4, -3, -2, -1, 0, 1, 2, 3], "domain": false, "tickSize": -10, "tickWidth": 1.4, "labelPadding": 16, "labelFontSize": 14, "labelFontWeight": "bold", "labelExpr": "datum.value < 0 ? '-' + abs(datum.value) : '' + datum.value", "title": null}},
   "detail": {"field": "curve", "type": "nominal"},
   "strokeDash": {"field": "style", "type": "nominal", "scale": {"domain": ["solid", "dashed", "dashdot"], "range": [[1, 0], [14, 6], [14, 5, 2, 5]]}, "legend": null}
  }},
 {"data": {"name": "labels"}, "transform": [{"filter": "datum.panel === 6"}], "mark": {"type": "text", "fontSize": 19, "color": "black", "font": "DejaVu Sans", "fontStyle": "italic"},
  "encoding": {
   "x": {"field": "x", "type": "quantitative"},
   "y": {"field": "y", "type": "quantitative", "axis": {"orient": "right", "values": [-5, -4, -3, -2, -1, 0, 1, 2, 3], "labels": false, "domain": false, "tickSize": -10, "tickWidth": 1.4, "title": null}},
   "text": {"field": "label"}
  }}
]}
]
}
